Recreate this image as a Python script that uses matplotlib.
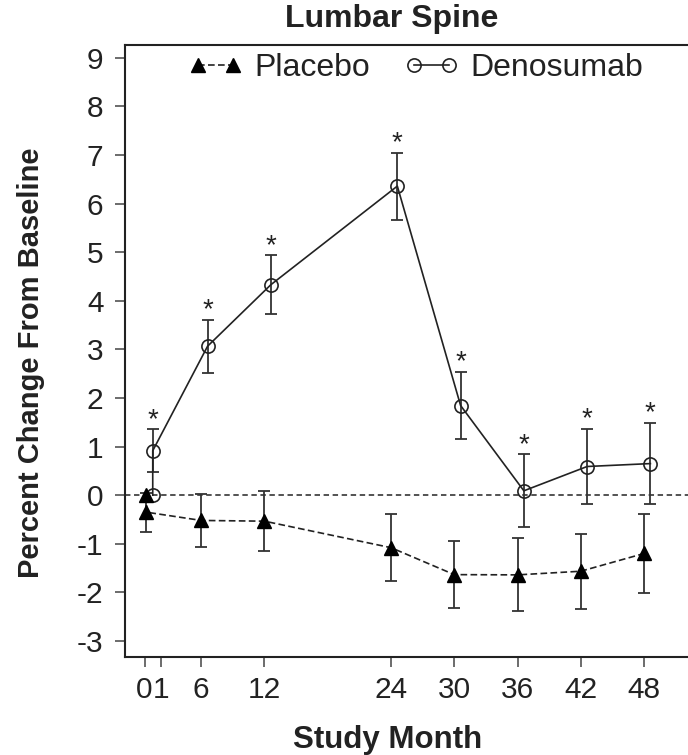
import numpy as np
import matplotlib.pyplot as plt
from matplotlib.legend_handler import HandlerLine2D

plt.rcParams['font.family'] = ['Liberation Sans', 'DejaVu Sans']
plt.rcParams['axes.unicode_minus'] = False

# visite (mese 0 e mese 1 condividono la prima posizione sull'asse)
months = [0, 1, 6, 12, 24, 30, 36, 42, 48]
x_pos = [0.8, 0.8, 6, 12, 24, 30, 36, 42, 48]

# variazione percentuale media ed errore
placebo = [0.0, -0.35, -0.52, -0.535, -1.08, -1.635, -1.64, -1.565, -1.20]
placebo_err = [0.0, 0.40, 0.54, 0.615, 0.69, 0.695, 0.75, 0.775, 0.82]
denosumab = [0.0, 0.915, 3.065, 4.33, 6.36, 1.845, 0.09, 0.59, 0.65]
denosumab_err = [0.0, 0.445, 0.545, 0.61, 0.69, 0.695, 0.75, 0.78, 0.84]
significant = [False, True, True, True, True, True, True, True, True]

tick_pos = [0.62, 2.2, 6, 12, 24, 30, 36, 42, 48]
tick_labels = ['0', '1', '6', '12', '24', '30', '36', '42', '48']

dark = '#222222'

fig = plt.figure(figsize=(6.88, 7.55), dpi=100)
ax = fig.add_axes([0.1817, 0.1298, 0.877, 0.811])

x_p = np.array(x_pos)
x_d = np.array(x_pos) + 0.6
p = np.array(placebo)
d = np.array(denosumab)
pe = np.array(placebo_err)
de = np.array(denosumab_err)

# linea dello zero
ax.axhline(0, color='#444444', lw=1.3, ls=(0, (3, 2)), zorder=1)

# barre di errore (solo dove l'errore c'e')
mp = pe > 0
ax.errorbar(x_p[mp], p[mp], yerr=pe[mp], fmt='none', ecolor='#333333',
            elinewidth=1.3, capsize=4, capthick=1.3, zorder=2)
md = de > 0
ax.errorbar(x_d[md], d[md], yerr=de[md], fmt='none', ecolor='#333333',
            elinewidth=1.3, capsize=4, capthick=1.3, zorder=2)

# linee e marker
line_d, = ax.plot(x_d, d, color=dark, lw=1.2, marker='o', markersize=9.5,
                  markerfacecolor='none', markeredgecolor=dark, markeredgewidth=1.2,
                  label='Denosumab', zorder=3)
line_p, = ax.plot(x_p, p, color=dark, lw=1.2, ls=(0, (4, 2)), marker='^', markersize=10,
                  markerfacecolor='black', markeredgecolor='black',
                  label='Placebo', zorder=4)

# asterischi di significativita'
for xi, yi, ei, s in zip(x_d, d, de, significant):
    if s:
        ax.annotate('*', (xi, yi + ei), xytext=(0, 1.5), textcoords='offset points',
                    ha='center', va='baseline', fontsize=20, color=dark)

ax.set_xlim(-1.23, 56)
ax.set_ylim(-3.33, 9.27)
ax.set_yticks(range(-3, 10))
ax.set_xticks(tick_pos)
ax.set_xticklabels(tick_labels)

for side in ['left', 'bottom', 'top']:
    ax.spines[side].set_linewidth(1.5)
    ax.spines[side].set_color(dark)
ax.spines['right'].set_visible(False)
ax.tick_params(axis='both', length=7.5, width=1.1, color='#444444',
               labelsize=21.5, labelcolor=dark)
ax.tick_params(axis='y', pad=8)
ax.tick_params(axis='x', pad=6)

# legenda
ax.legend([line_p, line_d], ['Placebo', 'Denosumab'], loc='center left', ncol=2,
          frameon=False, bbox_to_anchor=(182 / 688, 1 - 68 / 755),
          bbox_transform=fig.transFigure, borderaxespad=0, borderpad=0,
          handlelength=2.1, handletextpad=0.15, columnspacing=0.9,
          fontsize=23, labelcolor=dark,
          handler_map={line_p: HandlerLine2D(numpoints=2, marker_pad=0.5),
                       line_d: HandlerLine2D(numpoints=2, marker_pad=0.5)})

# titoli
fig.text(392 / 688, 1 - 27 / 755, 'Lumbar Spine', ha='center', va='baseline',
         fontsize=23, fontweight='bold', color=dark)
fig.text(388 / 688, 1 - 748 / 755, 'Study Month', ha='center', va='baseline',
         fontsize=22.5, fontweight='bold', color=dark)
fig.text(31 / 688, 1 - 363 / 755, 'Percent Change From Baseline', ha='center',
         va='center', rotation=90, fontsize=21, fontweight='bold', color=dark)

fig.savefig('out.png', dpi=100)
